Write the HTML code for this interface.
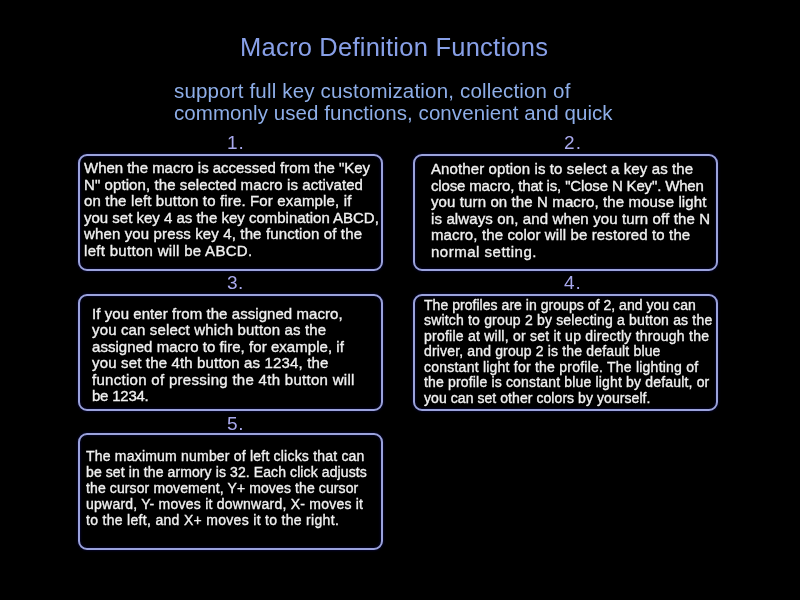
<!DOCTYPE html><html><head><meta charset="utf-8"><title>Macro Definition Functions</title><style>
*{margin:0;padding:0;box-sizing:border-box}
html,body{width:800px;height:600px;background:#000;overflow:hidden}
body{position:relative;font-family:"Liberation Sans",sans-serif}
.b{position:absolute;width:305px;height:117px;border:2px solid #9aa2dc;border-radius:9px;background:#000;box-shadow:0 0 2px 1px rgba(10,10,70,.55),inset 0 0 2px 1px rgba(10,10,70,.55)}
.t{position:absolute;white-space:nowrap;will-change:transform}

</style></head><body>
<div class="b" style="left:78px;top:154px"></div>
<div class="b" style="left:413px;top:154px"></div>
<div class="b" style="left:78px;top:294px"></div>
<div class="b" style="left:413px;top:294px"></div>
<div class="b" style="left:78px;top:433px"></div>
<div class="t" style="left:240.0px;top:34.7px;font-size:25.5px;line-height:25.5px;color:#88a0e8;letter-spacing:0.24px">Macro Definition Functions</div>
<div class="t" style="left:173.7px;top:80.8px;font-size:20.5px;line-height:20.5px;color:#8eaee8;letter-spacing:0.177px">support full key customization, collection of</div>
<div class="t" style="left:173.7px;top:102.5px;font-size:20.5px;line-height:20.5px;color:#8eaee8;letter-spacing:0.075px">commonly used functions, convenient and quick</div>
<div class="t" style="left:227.0px;top:132.75px;font-size:19px;line-height:19px;color:#a8a8ec;letter-spacing:1.0px">1.</div>
<div class="t" style="left:564.0px;top:132.75px;font-size:19px;line-height:19px;color:#a8a8ec;letter-spacing:1.25px">2.</div>
<div class="t" style="left:227.0px;top:273.0px;font-size:19px;line-height:19px;color:#a8a8ec;letter-spacing:0.5px">3.</div>
<div class="t" style="left:564.0px;top:272.75px;font-size:19px;line-height:19px;color:#a8a8ec;letter-spacing:1.0px">4.</div>
<div class="t" style="left:227.25px;top:414.0px;font-size:19px;line-height:19px;color:#a8a8ec;letter-spacing:0.75px">5.</div>
<div class="t" style="left:84.3px;top:160.2px;font-size:15px;line-height:15px;color:#f0f0f0;letter-spacing:-0.026px;-webkit-text-stroke:0.35px #f0f0f0">When the macro is accessed from the "Key</div>
<div class="t" style="left:84.3px;top:176.7px;font-size:15px;line-height:15px;color:#f0f0f0;letter-spacing:0.085px;-webkit-text-stroke:0.35px #f0f0f0">N" option, the selected macro is activated</div>
<div class="t" style="left:84.3px;top:193.2px;font-size:15px;line-height:15px;color:#f0f0f0;letter-spacing:0.152px;-webkit-text-stroke:0.35px #f0f0f0">on the left button to fire. For example, if</div>
<div class="t" style="left:84.3px;top:209.7px;font-size:15px;line-height:15px;color:#f0f0f0;letter-spacing:-0.007px;-webkit-text-stroke:0.35px #f0f0f0">you set key 4 as the key combination ABCD,</div>
<div class="t" style="left:84.3px;top:226.2px;font-size:15px;line-height:15px;color:#f0f0f0;letter-spacing:0.133px;-webkit-text-stroke:0.35px #f0f0f0">when you press key 4, the function of the</div>
<div class="t" style="left:84.3px;top:242.7px;font-size:15px;line-height:15px;color:#f0f0f0;letter-spacing:0.3px;-webkit-text-stroke:0.35px #f0f0f0">left button will be ABCD.</div>
<div class="t" style="left:430.9px;top:161.0px;font-size:15px;line-height:15px;color:#f0f0f0;letter-spacing:0.115px;-webkit-text-stroke:0.35px #f0f0f0">Another option is to select a key as the</div>
<div class="t" style="left:430.9px;top:177.6px;font-size:15px;line-height:15px;color:#f0f0f0;letter-spacing:-0.155px;-webkit-text-stroke:0.35px #f0f0f0">close macro, that is, "Close N Key". When</div>
<div class="t" style="left:430.9px;top:194.2px;font-size:15px;line-height:15px;color:#f0f0f0;letter-spacing:0.113px;-webkit-text-stroke:0.35px #f0f0f0">you turn on the N macro, the mouse light</div>
<div class="t" style="left:430.9px;top:210.8px;font-size:15px;line-height:15px;color:#f0f0f0;letter-spacing:0.125px;-webkit-text-stroke:0.35px #f0f0f0">is always on, and when you turn off the N</div>
<div class="t" style="left:430.9px;top:227.4px;font-size:15px;line-height:15px;color:#f0f0f0;letter-spacing:0.126px;-webkit-text-stroke:0.35px #f0f0f0">macro, the color will be restored to the</div>
<div class="t" style="left:430.9px;top:244.0px;font-size:15px;line-height:15px;color:#f0f0f0;letter-spacing:0.507px;-webkit-text-stroke:0.35px #f0f0f0">normal setting.</div>
<div class="t" style="left:91.8px;top:305.7px;font-size:15px;line-height:15px;color:#f0f0f0;letter-spacing:0.061px;-webkit-text-stroke:0.35px #f0f0f0">If you enter from the assigned macro,</div>
<div class="t" style="left:91.8px;top:322.2px;font-size:15px;line-height:15px;color:#f0f0f0;letter-spacing:0.145px;-webkit-text-stroke:0.35px #f0f0f0">you can select which button as the</div>
<div class="t" style="left:91.8px;top:338.7px;font-size:15px;line-height:15px;color:#f0f0f0;letter-spacing:0.047px;-webkit-text-stroke:0.35px #f0f0f0">assigned macro to fire, for example, if</div>
<div class="t" style="left:91.8px;top:355.2px;font-size:15px;line-height:15px;color:#f0f0f0;letter-spacing:0.159px;-webkit-text-stroke:0.35px #f0f0f0">you set the 4th button as 1234, the</div>
<div class="t" style="left:91.8px;top:371.7px;font-size:15px;line-height:15px;color:#f0f0f0;letter-spacing:0.292px;-webkit-text-stroke:0.35px #f0f0f0">function of pressing the 4th button will</div>
<div class="t" style="left:91.8px;top:388.2px;font-size:15px;line-height:15px;color:#f0f0f0;letter-spacing:-0.229px;-webkit-text-stroke:0.35px #f0f0f0">be 1234.</div>
<div class="t" style="left:424.0px;top:297.5px;font-size:14px;line-height:14px;color:#f0f0f0;letter-spacing:0.04px;-webkit-text-stroke:0.35px #f0f0f0">The profiles are in groups of 2, and you can</div>
<div class="t" style="left:424.0px;top:313.05px;font-size:14px;line-height:14px;color:#f0f0f0;letter-spacing:0.178px;-webkit-text-stroke:0.35px #f0f0f0">switch to group 2 by selecting a button as the</div>
<div class="t" style="left:424.0px;top:328.6px;font-size:14px;line-height:14px;color:#f0f0f0;letter-spacing:0.241px;-webkit-text-stroke:0.35px #f0f0f0">profile at will, or set it up directly through the</div>
<div class="t" style="left:424.0px;top:344.15px;font-size:14px;line-height:14px;color:#f0f0f0;letter-spacing:0.158px;-webkit-text-stroke:0.35px #f0f0f0">driver, and group 2 is the default blue</div>
<div class="t" style="left:424.0px;top:359.7px;font-size:14px;line-height:14px;color:#f0f0f0;letter-spacing:0.23px;-webkit-text-stroke:0.35px #f0f0f0">constant light for the profile. The lighting of</div>
<div class="t" style="left:424.0px;top:375.25px;font-size:14px;line-height:14px;color:#f0f0f0;letter-spacing:0.171px;-webkit-text-stroke:0.35px #f0f0f0">the profile is constant blue light by default, or</div>
<div class="t" style="left:424.0px;top:390.8px;font-size:14px;line-height:14px;color:#f0f0f0;letter-spacing:0.064px;-webkit-text-stroke:0.35px #f0f0f0">you can set other colors by yourself.</div>
<div class="t" style="left:85.5px;top:449.1px;font-size:14px;line-height:14px;color:#f0f0f0;letter-spacing:0.205px;-webkit-text-stroke:0.35px #f0f0f0">The maximum number of left clicks that can</div>
<div class="t" style="left:85.5px;top:465.0px;font-size:14px;line-height:14px;color:#f0f0f0;letter-spacing:0.1px;-webkit-text-stroke:0.35px #f0f0f0">be set in the armory is 32. Each click adjusts</div>
<div class="t" style="left:85.5px;top:480.9px;font-size:14px;line-height:14px;color:#f0f0f0;letter-spacing:0.115px;-webkit-text-stroke:0.35px #f0f0f0">the cursor movement, Y+ moves the cursor</div>
<div class="t" style="left:85.5px;top:496.8px;font-size:14px;line-height:14px;color:#f0f0f0;letter-spacing:0.233px;-webkit-text-stroke:0.35px #f0f0f0">upward, Y- moves it downward, X- moves it</div>
<div class="t" style="left:85.5px;top:512.7px;font-size:14px;line-height:14px;color:#f0f0f0;letter-spacing:0.31px;-webkit-text-stroke:0.35px #f0f0f0">to the left, and X+ moves it to the right.</div>
</body></html>
